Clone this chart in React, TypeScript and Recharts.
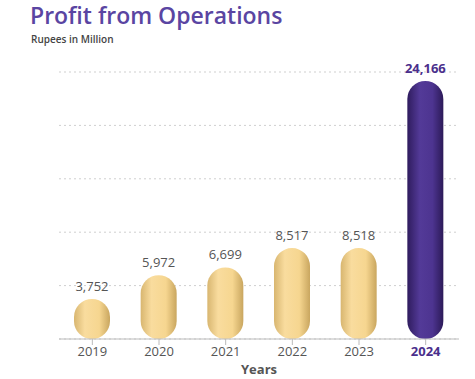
import { BarChart, Bar, XAxis, YAxis, CartesianGrid, Cell, LabelList } from "recharts";

const years = ["2019", "2020", "2021", "2022", "2023", "2024"];
const profit = [3752, 5972, 6699, 8517, 8518, 24166];
const yTicks = [0, 5000, 10000, 15000, 20000, 25000];

const data = years.map((year, i) => ({ year, profit: profit[i] }));

const PURPLE = "#4a2f8c";
const GREY = "#555";

function YearTick(props: any) {
    const { x, y, payload } = props;
    const last = payload.value === years[years.length - 1];
    return (
        <text
            x={x}
            y={y + 9}
            textAnchor="middle"
            fontSize={13}
            fontWeight={last ? 700 : 400}
            fill={last ? PURPLE : GREY}
        >
            {payload.value}
        </text>
    );
}

function ValueLabel(props: any) {
    const { x, y, width, value, index } = props;
    const last = index === profit.length - 1;
    return (
        <text
            x={x + width / 2}
            y={y - 8}
            textAnchor="middle"
            fontSize={13}
            fontWeight={last ? 700 : 400}
            fill={last ? PURPLE : GREY}
        >
            {value.toLocaleString("en-US")}
        </text>
    );
}

export default function App() {
    return (
        <div
            style={{
                position: "absolute",
                left: 0,
                top: 0,
                width: 475,
                height: 379,
                background: "#fff",
                fontFamily: "'Open Sans', sans-serif",
            }}
        >
            <div
                style={{
                    position: "absolute",
                    left: 30,
                    top: -1,
                    fontSize: 23,
                    fontWeight: 600,
                    color: "#5a45a2",
                }}
            >
                Profit from Operations
            </div>
            <div
                style={{
                    position: "absolute",
                    left: 31,
                    top: 32,
                    fontSize: 10,
                    fontWeight: 600,
                    color: "#444",
                }}
            >
                Rupees in Million
            </div>

            <BarChart
                width={475}
                height={379}
                data={data}
                margin={{ top: 72, right: 16, bottom: 0, left: 59 }}
            >
                <defs>
                    <linearGradient id="tan" x1="0" y1="0" x2="1" y2="0">
                        <stop offset="0%" stopColor="#d8b670" />
                        <stop offset="30%" stopColor="#f9dc9e" />
                        <stop offset="70%" stopColor="#f6d690" />
                        <stop offset="100%" stopColor="#c9a65f" />
                    </linearGradient>
                    <linearGradient id="purple" x1="0" y1="0" x2="1" y2="0">
                        <stop offset="0%" stopColor="#2f1c5e" />
                        <stop offset="35%" stopColor="#533a98" />
                        <stop offset="70%" stopColor="#4d3490" />
                        <stop offset="100%" stopColor="#2c1a58" />
                    </linearGradient>
                </defs>

                <CartesianGrid
                    vertical={false}
                    stroke="#cfcfcf"
                    strokeDasharray="2 3"
                />

                <XAxis
                    dataKey="year"
                    height={40}
                    axisLine={{ stroke: "#bbb" }}
                    tickLine={{ stroke: "#bbb" }}
                    tickSize={6}
                    interval={0}
                    tick={<YearTick />}
                    label={{
                        value: "Years",
                        position: "insideBottom",
                        offset: 5,
                        fontSize: 13,
                        fontWeight: 700,
                        fill: GREY,
                    }}
                />

                <YAxis hide domain={[0, 25000]} ticks={yTicks} />

                <Bar
                    dataKey="profit"
                    barSize={36}
                    radius={18}
                    isAnimationActive={false}
                >
                    {data.map((d, i) => (
                        <Cell
                            key={d.year}
                            fill={i === data.length - 1 ? "url(#purple)" : "url(#tan)"}
                        />
                    ))}
                    <LabelList dataKey="profit" content={<ValueLabel />} />
                </Bar>
            </BarChart>
        </div>
    );
}
